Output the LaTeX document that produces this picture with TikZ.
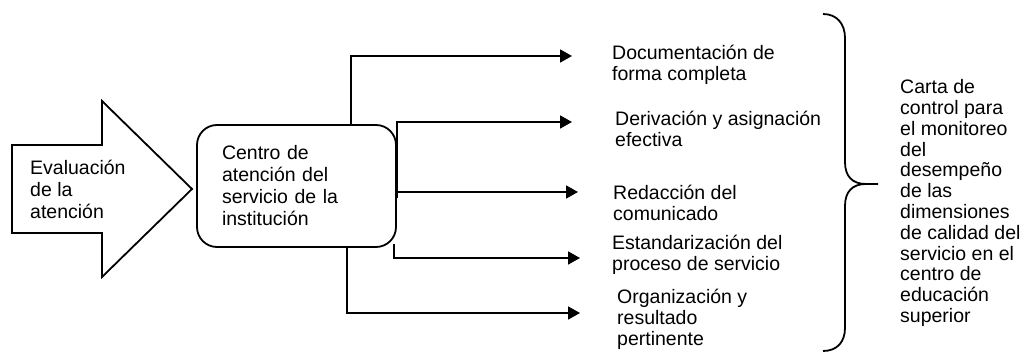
\documentclass[tikz,border=0pt]{standalone}
\usepackage{fontspec}
\setmainfont{Liberation Sans}
\usetikzlibrary{positioning, arrows.meta, calc}
\newcommand{\bodyfont}{\fontsize{19.5}{22}\selectfont}
\newcommand{\itemfont}{\fontsize{19.5}{21}\selectfont}
\newcommand{\cartafont}{\fontsize{19.5}{20.8}\selectfont}
\tikzset{
  outline/.style={draw=black, line width=1.8pt, line join=miter},
  box/.style={
    draw=black, line width=1.8pt, rounded corners=20pt,
    minimum width=199pt, minimum height=122pt,
    text width=149pt, align=left, inner sep=0pt, font=\bodyfont,
  },
  item/.style={anchor=west, align=left, inner sep=0pt, font=\itemfont},
  rel/.style={draw=black, line width=1.8pt},
}

\begin{document}
\begin{tikzpicture}[x=1pt, y=-1pt, >={Triangle[length=12pt, width=13pt]}]
\useasboundingbox (0,0) rectangle (1023,352);

% flecha de entrada
\draw[outline] (12,145) -- (102,145) -- (102,101) -- (192,189) -- (102,277)
  -- (102,233) -- (12,233) -- cycle;
\node[item, font=\bodyfont] (eval) at (30,189) {Evaluación\\de la\\atención};

\node[box] (centro) at (296.5,186) {Centro de\\atención del\\servicio de la\\institución};

% puntas de las flechas
\coordinate (t1) at (572,56);
\coordinate (t2) at (572,122);
\coordinate (t3) at (578,192);
\coordinate (t4) at (580,258);
\coordinate (t5) at (580,313);

\node[item] (doc) at (612,65) {Documentación de\\forma completa};
\node[item] (deriv) at (615,129) {Derivación y asignación\\efectiva};
\node[item] (redac) at (613,203) {Redacción del\\comunicado};
\node[item] (estand) at (612,255) {Estandarización del\\proceso de servicio};
\node[item] (organ) at (617,319) {Organización y\\resultado\\pertinente};

\draw[rel, ->] ($(centro.north west)+(155,0)$) |- (t1);
\draw[rel, ->] ($(centro.east)+(0,12)$) |- (t2);
\draw[rel, ->] ($(centro.east)+(0,6)$) -- (t3);
\draw[rel, ->] ($(centro.south east)+(-3,-4)$) |- (t4);
\draw[rel, ->] ($(centro.south west)+(151,0)$) |- (t5);

% llave
\coordinate (llave) at (878,184);
\draw[rel] (823,14) .. controls (837,14) and (845,24) .. (845,38) -- (845,162)
  .. controls (845,176) and (852,184) .. (866,184) -- (llave);
\draw[rel] (866,184) .. controls (852,184) and (845,192) .. (845,206) -- (845,328)
  .. controls (845,342) and (837,351) .. (823,351);

\node[item, font=\cartafont] (carta) at (900,203) {Carta de\\control para\\el monitoreo\\del\\desempeño\\de las\\dimensiones\\de calidad del\\servicio en el\\centro de\\educación\\superior};

\end{tikzpicture}
\end{document}
